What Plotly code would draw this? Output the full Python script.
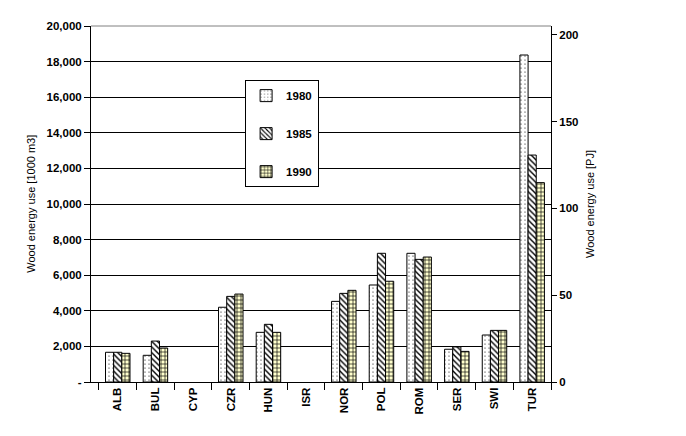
import plotly.graph_objects as go

countries = ["ALB", "BUL", "CYP", "CZR", "HUN", "ISR", "NOR", "POL", "ROM", "SER", "SWI", "TUR"]
v1980 = [1670, 1500, None, 4200, 2790, None, 4530, 5450, 7230, 1840, 2640, 18370]
v1985 = [1670, 2300, None, 4810, 3240, None, 4980, 7230, 6890, 1970, 2900, 12750]
v1990 = [1610, 1910, None, 4940, 2790, None, 5150, 5660, 7020, 1720, 2900, 11200]

left_ticks = [0, 2000, 4000, 6000, 8000, 10000, 12000, 14000, 16000, 18000, 20000]
left_ticktext = ["-", "2,000", "4,000", "6,000", "8,000", "10,000", "12,000", "14,000", "16,000", "18,000", "20,000"]
right_ticks = [0, 50, 100, 150, 200]

FONT = "Liberation Sans, Arial, sans-serif"
bold = dict(family=FONT, size=11.5, color="black", weight="bold")

fig = go.Figure()
series = [
    ("1980", v1980, dict(shape=".", bgcolor="white", fgcolor="black", size=4, solidity=0.07, fillmode="replace")),
    ("1985", v1985, dict(shape="\\", bgcolor="white", fgcolor="black", size=4, solidity=0.35, fillmode="replace")),
    ("1990", v1990, dict(shape="+", bgcolor="#FFFFCC", fgcolor="black", size=4, solidity=0.3, fillmode="replace")),
]
for name, vals, pat in series:
    fig.add_trace(go.Bar(
        x=countries, y=vals, name=name, legendgroup=name,
        marker=dict(color="white", pattern=pat, line=dict(color="black", width=1)),
    ))

# invisible helper trace so the secondary (PJ) axis is drawn
fig.add_trace(go.Scatter(x=[countries[0]], y=[0], yaxis="y2", mode="markers",
                         marker=dict(opacity=0), showlegend=False, hoverinfo="skip"))

fig.update_layout(
    width=686, height=436,
    margin=dict(l=91, r=135, t=26, b=54),
    paper_bgcolor="white", plot_bgcolor="white",
    barmode="group", bargap=0.35, bargroupgap=0,
    font=dict(family=FONT, size=11, color="black"),
    xaxis=dict(
        type="category", tickson="boundaries", ticks="outside", ticklen=7,
        tickcolor="black", showline=True, linecolor="black", linewidth=1,
        tickangle=-90, tickfont=bold, showgrid=False,
    ),
    yaxis=dict(
        range=[0, 20000], tickvals=left_ticks, ticktext=left_ticktext,
        ticks="outside", ticklen=6, tickcolor="black", tickfont=bold,
        showline=True, linecolor="black", linewidth=1,
        showgrid=True, gridcolor="black", gridwidth=1, zeroline=False,
    ),
    yaxis2=dict(
        overlaying="y", side="right", range=[0, 205], tickvals=right_ticks,
        ticks="outside", ticklen=5, tickcolor="black", tickfont=bold,
        showline=True, linecolor="black", linewidth=1, showgrid=False, zeroline=False,
    ),
    legend=dict(
        x=0.335, y=0.848, xanchor="left", yanchor="top",
        bgcolor="white", bordercolor="black", borderwidth=1,
        font=bold, tracegroupgap=19, itemwidth=30,
    ),
    shapes=[dict(type="line", xref="paper", yref="paper", x0=0, x1=1, y0=1, y1=1,
                 line=dict(color="#808080", width=1), layer="above")],
    annotations=[
        dict(text="Wood energy use [1000 m3]", xref="paper", yref="paper",
             x=-0.131, y=0.5, xanchor="center", yanchor="middle", textangle=-90,
             showarrow=False, font=dict(family=FONT, size=11, color="black")),
        dict(text="Wood energy use [PJ]", xref="paper", yref="paper",
             x=1.0848, y=0.5, xanchor="center", yanchor="middle", textangle=-90,
             showarrow=False, font=dict(family=FONT, size=11, color="black")),
    ],
)

fig.write_html("out.html", config={"displayModeBar": False},
               post_script="document.body.style.margin='0';")
